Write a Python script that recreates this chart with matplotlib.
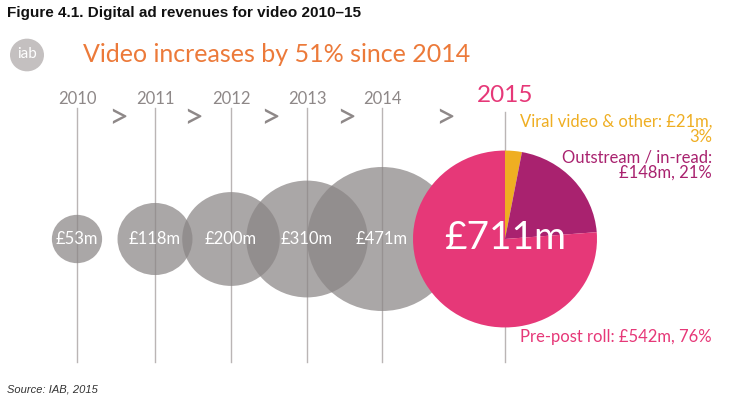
import matplotlib
matplotlib.use("Agg")
import matplotlib.pyplot as plt
from matplotlib.patches import Circle
import numpy as np

# ---- data ----
years = ["2010", "2011", "2012", "2013", "2014"]
revenues = [53, 118, 200, 310, 471]
total_2015 = 711
split_labels = ["Viral video & other", "Outstream / in-read", "Pre-post roll"]
split_values = [21, 148, 542]
split_pct = [3, 21, 76]

# ---- layout / style ----
W, H = 734, 403
K = 1.04  # vertical data units per pixel (reference is slightly squashed)
xpos = [77, 155, 231, 307, 382]
x2015 = 505
scale = 3.45  # px radius per sqrt(£m)

grey_fill = "#8a8585"
line_col = "#bab5b5"
year_col = "#8e8888"
pink = "#e63878"
purple = "#a9226f"
yellow = "#efae22"
orange = "#ec7a3a"
FONT = "Lato"

fig = plt.figure(figsize=(W / 100, H / 100), dpi=100)
ax = fig.add_axes([0, 0, 1, 1])


def Y(py):
    return (H - py) * K


cy = Y(239)

# vertical lines
for x in xpos:
    ax.plot([x, x], [Y(108), Y(362)], color=line_col, lw=1.0, zorder=1)
ax.plot([x2015, x2015], [Y(112), Y(362)], color=line_col, lw=1.0, zorder=1)

# grey circles
for x, v in zip(xpos, revenues):
    r = scale * np.sqrt(v)
    ax.add_patch(Circle((x, cy), r, facecolor=grey_fill, edgecolor="none",
                        alpha=0.72, zorder=2))
    ax.text(x, cy, f"£{v}m", ha="center", va="center", color="white",
            fontsize=12, family=FONT, zorder=5)

# 2015 pie
r15 = scale * np.sqrt(total_2015)
wedges, _ = ax.pie(split_values, colors=[yellow, purple, pink], startangle=90,
                   counterclock=False, center=(x2015, cy), radius=r15,
                   frame=True, wedgeprops=dict(linewidth=0))
for w in wedges:
    w.set_zorder(3)
ax.set_xlim(0, W)
ax.set_ylim(0, H * K)
ax.set_aspect("auto")
ax.axis("off")
ax.text(x2015, Y(238), f"£{total_2015}m", ha="center", va="center",
        color="white", fontsize=28, family=FONT, zorder=6)

# years and arrows
for x, yr in zip(xpos, years):
    ax.text(x, Y(99), yr, ha="center", va="center", color=year_col,
            fontsize=12, family=FONT)
ax.text(x2015, Y(95), "2015", ha="center", va="center", color=pink,
        fontsize=17.5, family=FONT)
for ax_x in [118, 193, 270, 346, 445]:
    ax.text(ax_x, Y(118), ">", ha="center", va="center", color=year_col,
            fontsize=25, family=FONT)

# pie annotations
rx = 712
ax.text(rx, Y(122), f"{split_labels[0]}: £{split_values[0]}m,", ha="right",
        va="center", color=yellow, fontsize=12, family=FONT)
ax.text(rx, Y(137), f"{split_pct[0]}%", ha="right", va="center",
        color=yellow, fontsize=12, family=FONT)
ax.text(rx, Y(158), f"{split_labels[1]}:", ha="right", va="center",
        color=purple, fontsize=12, family=FONT)
ax.text(rx, Y(173), f"£{split_values[1]}m, {split_pct[1]}%", ha="right",
        va="center", color=purple, fontsize=12, family=FONT)
ax.text(rx, Y(337), f"{split_labels[2]}: £{split_values[2]}m, {split_pct[2]}%",
        ha="right", va="center", color=pink, fontsize=12, family=FONT)

# headers
ax.text(7, Y(13), "Figure 4.1. Digital ad revenues for video 2010–15",
        ha="left", va="center", fontsize=11, fontweight="bold",
        family="Liberation Sans", color="#111111")
ax.add_patch(Circle((27, Y(55)), 17, facecolor="#c4c0c0", edgecolor="none"))
ax.text(27, Y(54), "iab", ha="center", va="center", color="white",
        fontsize=11, family=FONT)
ax.text(83, Y(55), "Video increases by 51% since 2014", ha="left",
        va="center", color=orange, fontsize=18, family=FONT)
ax.text(7, Y(390), "Source: IAB, 2015", ha="left", va="center",
        fontsize=8, style="italic", family="Liberation Sans", color="#333333")

fig.savefig("out.png", dpi=100)
